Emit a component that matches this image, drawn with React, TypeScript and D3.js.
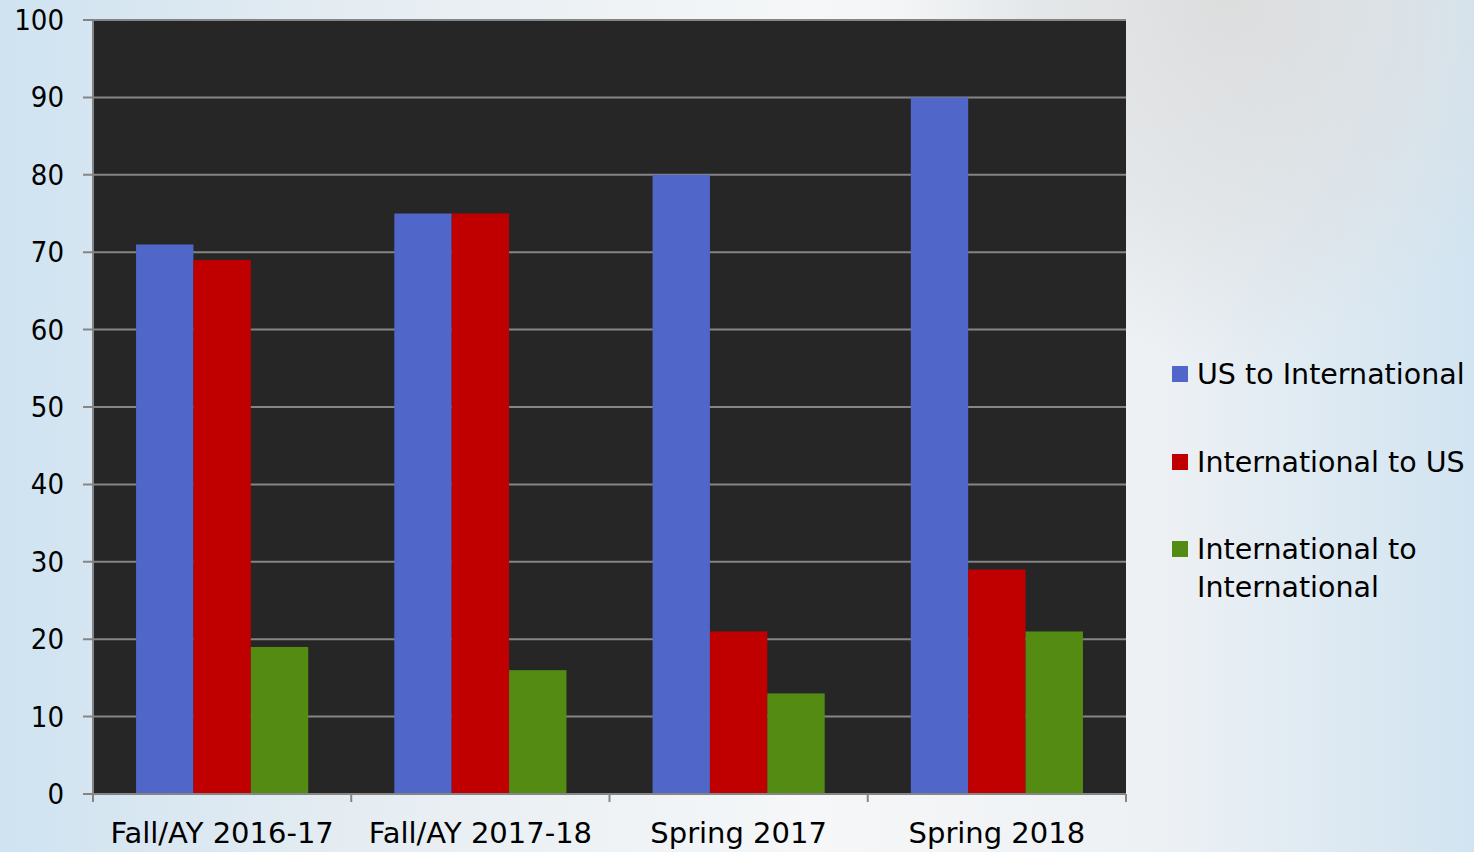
import React from "react";
import * as d3 from "d3";

const categories = ["Fall/AY 2016-17", "Fall/AY 2017-18", "Spring 2017", "Spring 2018"];
const seriesNames = ["US to International", "International to US", "International to International"];
const usToIntl = [71, 75, 80, 90];
const intlToUs = [69, 75, 21, 29];
const intlToIntl = [19, 16, 13, 21];
const yTicks = [0, 10, 20, 30, 40, 50, 60, 70, 80, 90, 100];
const colors = ["#5067C9", "#C00000", "#548B12"];
const legendLines = [["US to International"], ["International to US"], ["International to", "International"]];

const W = 1474, H = 852;
const left = 93, right = 1126, top = 20, bottom = 794;
const FONT_NUM = "'DejaVu Sans Condensed', 'DejaVu Sans', sans-serif";
const FONT = "'DejaVu Sans', sans-serif";

export default function App() {
  const series = [usToIntl, intlToUs, intlToIntl];
  const x = d3.scaleBand<string>().domain(categories).range([left, right]).padding(0);
  const inner = d3.scaleBand<string>().domain(seriesNames).range([0, x.bandwidth()]).paddingOuter(0.75).paddingInner(0);
  const y = d3.scaleLinear().domain([0, 100]).range([bottom, top]);
  const gridColor = "#858585";
  return (
    <svg width={W} height={H} style={{ position: "absolute", left: 0, top: 0 }}>
      <defs>
        <linearGradient id="bg" x1="0" y1="0" x2="1" y2="0">
          <stop offset="0" stopColor="#cfe3f1" />
          <stop offset="0.25" stopColor="#e6edf2" />
          <stop offset="0.55" stopColor="#f5f7f8" />
          <stop offset="0.78" stopColor="#eef1f4" />
          <stop offset="1" stopColor="#d1e4f1" />
        </linearGradient>
        <radialGradient id="topshade" cx="1230" cy="0" r="330" gradientUnits="userSpaceOnUse" gradientTransform="translate(1230 0) scale(1 1.1) translate(-1230 0)">
          <stop offset="0" stopColor="#dcdcdc" stopOpacity="0.95" />
          <stop offset="0.6" stopColor="#dde0e2" stopOpacity="0.6" />
          <stop offset="1" stopColor="#dde0e2" stopOpacity="0" />
        </radialGradient>
      </defs>
      <rect x={0} y={0} width={W} height={H} fill="url(#bg)" />
      <rect x={0} y={0} width={W} height={H} fill="url(#topshade)" />
      <rect x={left} y={top} width={right - left} height={bottom - top} fill="#262626" />
      {yTicks.map((t) => (
        <g key={t}>
          <line x1={left - 10} x2={right} y1={y(t)} y2={y(t)} stroke={gridColor} strokeWidth={2} />
          <text x={64} y={y(t)} textAnchor="end" dominantBaseline="central" fontFamily={FONT_NUM} fontSize={29} fill="#000">
            {t}
          </text>
        </g>
      ))}
      {categories.map((c, i) => (
        <g key={c}>
          {series.map((s, j) => (
            <rect
              key={j}
              x={(x(c) as number) + (inner(seriesNames[j]) as number)}
              y={y(s[i])}
              width={inner.bandwidth()}
              height={y(0) - y(s[i])}
              fill={colors[j]}
            />
          ))}
        </g>
      ))}
      <line x1={left} x2={left} y1={top} y2={bottom} stroke={gridColor} strokeWidth={2} />
      <line x1={left - 10} x2={right} y1={bottom} y2={bottom} stroke={gridColor} strokeWidth={2} />
      {[...categories.map((c) => x(c) as number), right].map((v, i) => (
        <line key={i} x1={v} x2={v} y1={bottom} y2={bottom + 8} stroke={gridColor} strokeWidth={2} />
      ))}
      {categories.map((c) => (
        <text key={c} x={(x(c) as number) + x.bandwidth() / 2} y={833} textAnchor="middle" dominantBaseline="central" fontFamily={FONT} fontSize={29} fill="#000">
          {c}
        </text>
      ))}
      {seriesNames.map((n, j) => {
        const cy = [374, 462, 549][j];
        return (
          <g key={n}>
            <rect x={1172} y={cy - 8} width={16} height={16} fill={colors[j]} />
            {legendLines[j].map((line, k) => (
              <text key={k} x={1197} y={cy + k * 38} dominantBaseline="central" fontFamily={FONT} fontSize={28.5} fill="#000">
                {line}
              </text>
            ))}
          </g>
        );
      })}
    </svg>
  );
}
